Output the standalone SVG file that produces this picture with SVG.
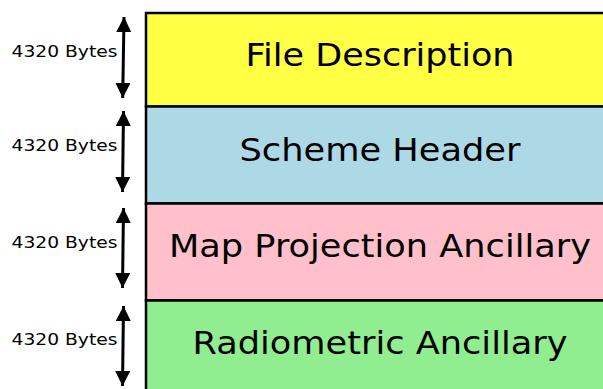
<svg xmlns="http://www.w3.org/2000/svg" width="603" height="389" viewBox="0 0 603 389">
<style>
.box{stroke:#000;stroke-width:2.5}
.big{font-family:"DejaVu Sans",sans-serif;font-size:32.5px;text-anchor:middle;fill:#000}
.lbl{font-family:"DejaVu Sans",sans-serif;font-size:15.5px;text-anchor:middle;fill:#000}
.arr{stroke:#000;stroke-width:3;fill:none;marker-start:url(#ah);marker-end:url(#ah)}
</style>
<defs>
<marker id="ah" viewBox="0 0 10 10" refX="10" refY="5" markerWidth="5" markerHeight="5" orient="auto-start-reverse" markerUnits="strokeWidth">
<path d="M0,0 L10,5 L0,10 z" fill="#000"/>
</marker>
</defs>
<rect width="603" height="389" fill="#fff"/>
<g id="file-description">
<rect class="box" x="146" y="13" width="470" height="93.5" fill="#ffff44"/>
<text class="big" x="380" y="66" textLength="269" lengthAdjust="spacingAndGlyphs">File Description</text>
</g>
<g id="scheme-header">
<rect class="box" x="146" y="106.5" width="470" height="97" fill="#add8e6"/>
<text class="big" x="380" y="161" textLength="281" lengthAdjust="spacingAndGlyphs">Scheme Header</text>
</g>
<g id="map-projection-ancillary">
<rect class="box" x="146" y="203.5" width="470" height="97" fill="#ffc0cb"/>
<text class="big" x="380" y="257" textLength="422" lengthAdjust="spacingAndGlyphs">Map Projection Ancillary</text>
</g>
<g id="radiometric-ancillary">
<rect class="box" x="146" y="300.5" width="470" height="97" fill="#90ee90"/>
<text class="big" x="380" y="354" textLength="375" lengthAdjust="spacingAndGlyphs">Radiometric Ancillary</text>
</g>
<g id="labels">
<text class="lbl" x="64.5" y="57.3" textLength="106" lengthAdjust="spacingAndGlyphs">4320 Bytes</text>
<text class="lbl" x="64.5" y="151" textLength="106" lengthAdjust="spacingAndGlyphs">4320 Bytes</text>
<text class="lbl" x="64.5" y="248.3" textLength="106" lengthAdjust="spacingAndGlyphs">4320 Bytes</text>
<text class="lbl" x="64.5" y="345" textLength="106" lengthAdjust="spacingAndGlyphs">4320 Bytes</text>
</g>
<g id="connectors">
<path class="arr" d="M124,17 L122.7,98"/>
<path class="arr" d="M123.5,111 L122.5,192"/>
<path class="arr" d="M123.5,208 L122.5,288"/>
<path class="arr" d="M123.5,306 L122.5,386"/>
</g>
</svg>
